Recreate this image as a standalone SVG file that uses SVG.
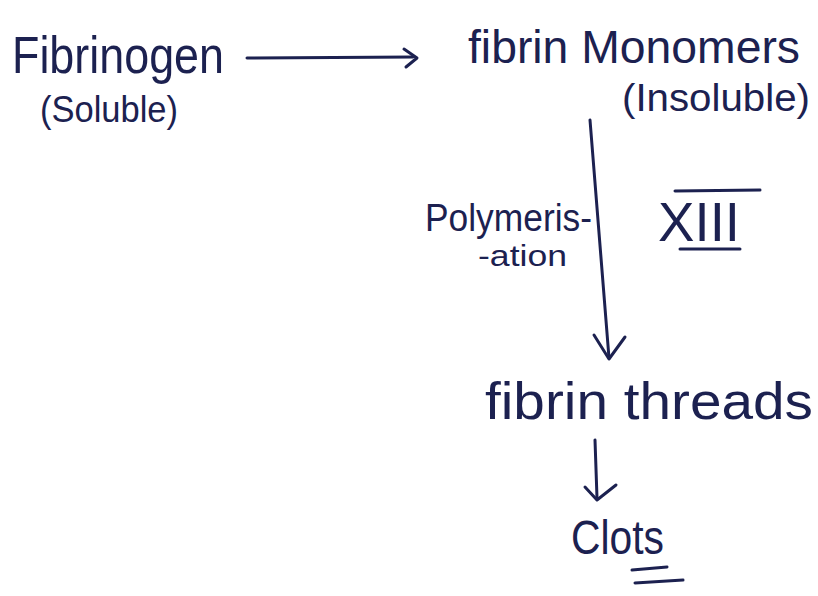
<svg xmlns="http://www.w3.org/2000/svg" width="818" height="596" viewBox="0 0 818 596">
  <style>
    .ink { fill: #1c2150; font-family: "Liberation Sans", "DejaVu Sans", sans-serif; }
    .line { stroke: #1c2150; stroke-width: 3; fill: none; stroke-linecap: round; stroke-linejoin: round; }
  </style>
  <rect width="818" height="596" fill="#ffffff"/>

  <g id="fibrinogen">
    <text class="ink" font-size="52" x="12" y="73" textLength="212" lengthAdjust="spacingAndGlyphs">Fibrinogen</text>
    <text class="ink" font-size="36" x="40" y="122" textLength="138" lengthAdjust="spacingAndGlyphs">(Soluble)</text>
  </g>

  <g id="fibrin-monomers">
    <text class="ink" font-size="46" x="468" y="63" textLength="332" lengthAdjust="spacingAndGlyphs">fibrin Monomers</text>
    <text class="ink" font-size="38" x="622" y="111" textLength="188" lengthAdjust="spacingAndGlyphs">(Insoluble)</text>
  </g>

  <g id="polymerisation">
    <text class="ink" font-size="38" x="425" y="231" textLength="167" lengthAdjust="spacingAndGlyphs">Polymeris-</text>
    <text class="ink" font-size="30" x="478" y="266" textLength="89" lengthAdjust="spacingAndGlyphs">-ation</text>
  </g>

  <g id="factor-xiii">
    <text class="ink" font-size="56" x="658" y="241" textLength="82" lengthAdjust="spacingAndGlyphs">XIII</text>
    <path class="line" d="M675 191 L760 190"/>
    <path class="line" d="M680 249 L740 249"/>
  </g>

  <g id="fibrin-threads">
    <text class="ink" font-size="52" x="485" y="419" textLength="328" lengthAdjust="spacingAndGlyphs">fibrin threads</text>
  </g>

  <g id="clots">
    <text class="ink" font-size="48" x="571" y="554" textLength="93" lengthAdjust="spacingAndGlyphs">Clots</text>
    <path class="line" d="M632 570 L667 567"/>
    <path class="line" d="M635 583 L683 580"/>
  </g>

  <g id="connectors">
    <path class="line" d="M247 58 L413 57"/>
    <path class="line" d="M404 49 L417 58 L406 67"/>
    <path class="line" d="M590 120 L609 358"/>
    <path class="line" d="M594 335 L609 359 L625 337"/>
    <path class="line" d="M595 440 L597 498"/>
    <path class="line" d="M585 487 L597 500 L616 485"/>
  </g>
</svg>
